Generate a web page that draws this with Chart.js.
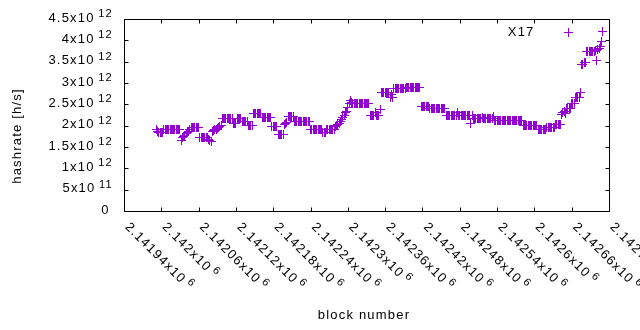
<!DOCTYPE html>
<html><head><meta charset="utf-8">
<script src="https://cdn.jsdelivr.net/npm/chart.js@4/dist/chart.umd.min.js"></script>
<style>html,body{margin:0;padding:0;background:#fff}</style>
</head><body>
<canvas id="c" width="640" height="330"></canvas>
<script>
// ---- data ----
const seriesLabel = "X17";
const FIRST_BLOCK = 2141992;   // block number of first sample
const BLOCK_STEP = 2;          // one sample every 2 blocks
// hashrate in units of 10^12 h/s
const hashrateT = [
  1.90, 1.86, 1.83, 1.83, 1.83, 1.85,
  1.90, 1.90, 1.90, 1.90, 1.90, 1.90, 1.90, 1.90, 1.90, 1.90, 1.90, 1.90, 1.90, 1.90,
  1.66,
  1.72, 1.75, 1.78, 1.81, 1.84, 1.87, 1.90,
  1.95, 1.95, 1.95, 1.95, 1.95, 1.95, 1.95,
  1.73, 1.73, 1.73, 1.73, 1.73, 1.73, 1.73,
  1.67, 1.66, 1.63, 1.86,
  1.88, 1.90, 1.92, 1.94, 1.96, 1.98, 2.00,
  2.16, 2.16, 2.16, 2.16, 2.16, 2.16, 2.16, 2.16, 2.16,
  2.06, 2.06, 2.06,
  2.16, 2.16, 2.16, 2.16,
  2.10, 2.10, 2.10, 2.10, 2.10,
  2.01, 2.01, 2.01, 2.01,
  2.28, 2.28, 2.28, 2.28, 2.28, 2.28, 2.28,
  2.18, 2.18, 2.18, 2.18, 2.18, 2.18, 2.18, 2.18,
  1.97, 1.97, 1.97, 1.97, 1.97,
  1.80, 1.80, 1.80, 1.80, 1.80,
  2.02, 2.05, 2.08,
  2.22, 2.22, 2.22, 2.22, 2.22,
  2.09, 2.09, 2.09, 2.09, 2.09, 2.09, 2.09, 2.09, 2.09, 2.09, 2.09, 2.09, 2.09,
  1.91, 1.91, 1.91, 1.91, 1.91, 1.91, 1.91, 1.91, 1.91, 1.91,
  1.84, 1.84, 1.84,
  1.92, 1.92, 1.92, 1.92, 1.92, 1.92, 1.92,
  1.98, 2.00, 2.03, 2.06, 2.10,
  2.14, 2.18, 2.24, 2.30, 2.34,
  2.42, 2.52, 2.59, 2.55,
  2.51, 2.51, 2.51, 2.51, 2.51, 2.51, 2.51, 2.51, 2.51, 2.51, 2.51, 2.51, 2.51, 2.51,
  2.24, 2.24, 2.24, 2.24, 2.30, 2.24, 2.24, 2.24,
  2.38,
  2.77, 2.77, 2.77, 2.77, 2.77, 2.77, 2.77,
  2.65, 2.72, 2.65,
  2.86, 2.86, 2.86, 2.86, 2.86, 2.86, 2.86, 2.86, 2.86, 2.86,
  2.89, 2.89, 2.89, 2.89, 2.89, 2.89, 2.89, 2.89, 2.89, 2.89, 2.89, 2.89,
  2.45, 2.45, 2.45, 2.45, 2.45, 2.45, 2.45,
  2.41, 2.41, 2.41, 2.41, 2.41, 2.41, 2.41, 2.41, 2.41, 2.41, 2.41, 2.41, 2.41,
  2.23, 2.23, 2.23, 2.23, 2.23, 2.23, 2.23, 2.23, 2.23, 2.31,
  2.23, 2.23, 2.23, 2.23, 2.23, 2.23, 2.23, 2.23, 2.23, 2.23, 2.05, 2.23,
  2.16, 2.16, 2.16, 2.16, 2.16, 2.16, 2.16, 2.20,
  2.16, 2.16, 2.16, 2.16, 2.16, 2.16, 2.16, 2.16, 2.22,
  2.11, 2.11, 2.11, 2.11, 2.11, 2.11, 2.11, 2.11, 2.11, 2.11, 2.11, 2.11,
  2.11, 2.11, 2.11, 2.11, 2.11, 2.11, 2.11, 2.11, 2.11, 2.11, 2.11,
  2.00, 2.00, 2.00, 2.00, 2.00, 2.00, 2.00, 2.00, 2.00, 2.00, 2.00, 2.00,
  1.92, 1.92, 1.92, 1.92, 1.92, 1.92, 1.92,
  1.95, 1.95, 1.95, 1.95, 1.95, 1.95, 1.95,
  2.02, 2.02, 2.02, 2.02, 2.02,
  2.27, 2.30, 2.33, 2.28,
  2.41, 2.41, 2.41, 2.41,
  2.52, 2.52, 2.52,
  2.65, 2.65, 2.65, 2.65,
  2.77,
  3.43, 3.43, 3.48, 3.48,
  3.73, 3.73, 3.73, 3.73, 3.73, 3.73, 3.73,
  3.76, 3.53, 3.78, 3.80, 3.85, 3.98, 4.21
];
const xTickValues = [2141940, 2142000, 2142060, 2142120, 2142180, 2142240, 2142300,
                     2142360, 2142420, 2142480, 2142540, 2142600, 2142660, 2142720];
const xTickMantissas = ["2.14194", "2.142", "2.14206", "2.14212", "2.14218", "2.14224", "2.1423",
                        "2.14236", "2.14242", "2.14248", "2.14254", "2.1426", "2.14266", "2.14272"];
const xTickExponent = "6";
const yTickValues = [0, 0.5e12, 1e12, 1.5e12, 2e12, 2.5e12, 3e12, 3.5e12, 4e12, 4.5e12];
const yTickMantissas = ["0", "5", "1", "1.5", "2", "2.5", "3", "3.5", "4", "4.5"];
const yTickExponents = ["", "11", "12", "12", "12", "12", "12", "12", "12", "12"];
const xTitle = "block number";
const yTitle = "hashrate [h/s]";

// ---- styling ----
const PURPLE = "#9400d3";
const FONT = "13px 'Liberation Sans', Arial, sans-serif";
const SUP_FONT = "11px 'Liberation Sans', Arial, sans-serif";
const SPACING = "1.2px";

function makeCross(size, color) {
  const c = document.createElement("canvas");
  c.width = size; c.height = size;
  const g = c.getContext("2d");
  g.fillStyle = color;
  const m = (size - 1) / 2;
  g.fillRect(0, m, size, 1);
  g.fillRect(m, 0, 1, size);
  return c;
}
const crossMark = makeCross(9, PURPLE);

const points = hashrateT.map((v, i) => ({ x: FIRST_BLOCK + i * BLOCK_STEP, y: v * 1e12 }));

const crispPoints = {
  id: "crispPoints",
  beforeDatasetsDraw(chart) { chart.ctx.save(); chart.ctx.imageSmoothingEnabled = false; },
  afterDatasetsDraw(chart) { chart.ctx.restore(); }
};

const gnuplotFrame = {
  id: "gnuplotFrame",
  afterDraw(chart) {
    const ctx = chart.ctx;
    const a = chart.chartArea;
    const xs = chart.scales.x, ys = chart.scales.y;
    const L = Math.round(a.left) + 0.5, R = Math.round(a.right) + 0.5;
    const T = Math.round(a.top) + 0.5, B = Math.round(a.bottom) + 0.5;
    ctx.save();
    ctx.strokeStyle = "#000";
    ctx.lineWidth = 1;
    ctx.beginPath();
    ctx.rect(L, T, R - L, B - T);
    xTickValues.forEach(v => {
      const px = Math.round(xs.getPixelForValue(v)) + 0.5;
      ctx.moveTo(px, B); ctx.lineTo(px, B - 4);
      ctx.moveTo(px, T); ctx.lineTo(px, T + 4);
    });
    yTickValues.forEach(v => {
      const py = Math.round(ys.getPixelForValue(v)) + 0.5;
      ctx.moveTo(L, py); ctx.lineTo(L + 4, py);
      ctx.moveTo(R, py); ctx.lineTo(R - 4, py);
    });
    ctx.stroke();

    ctx.fillStyle = "#000";
    ctx.letterSpacing = SPACING;
    // y tick labels
    yTickValues.forEach((v, i) => {
      const py = ys.getPixelForValue(v);
      const exp = yTickExponents[i];
      ctx.textBaseline = "middle";
      ctx.textAlign = "right";
      if (exp) {
        ctx.font = SUP_FONT;
        const supW = ctx.measureText(exp).width;
        ctx.fillText(exp, 112.8, py - 5);
        ctx.font = FONT;
        ctx.fillText(yTickMantissas[i] + "x10", 112.8 - supW - 3.5, py - 1);
      } else {
        ctx.font = FONT;
        ctx.fillText(yTickMantissas[i], 109.8, py - 0.5);
      }
    });
    // x tick labels, rotated
    xTickValues.forEach((v, i) => {
      const px = xs.getPixelForValue(v);
      ctx.save();
      ctx.translate(px + 3, 225);
      ctx.rotate(Math.PI / 4);
      ctx.textAlign = "left";
      ctx.textBaseline = "middle";
      ctx.font = FONT;
      const base = xTickMantissas[i] + "x10";
      ctx.fillText(base, 0, 0);
      const w = ctx.measureText(base).width;
      ctx.font = SUP_FONT;
      ctx.fillText(xTickExponent, w + 3, -4.5);
      ctx.restore();
    });
    // axis titles
    ctx.font = FONT;
    ctx.textAlign = "center";
    ctx.textBaseline = "middle";
    ctx.fillText(xTitle, 364, 315);
    ctx.save();
    ctx.translate(17, 136);
    ctx.rotate(-Math.PI / 2);
    ctx.fillText(yTitle, 0, 0);
    ctx.restore();
    // key
    ctx.textAlign = "right";
    ctx.fillText(seriesLabel, 534.5, 32);
    ctx.restore();
    ctx.save();
    ctx.imageSmoothingEnabled = false;
    ctx.drawImage(crossMark, 564, 28);
    ctx.restore();
  }
};

new Chart(document.getElementById("c"), {
  type: "scatter",
  data: {
    datasets: [{
      label: seriesLabel,
      data: points,
      pointStyle: crossMark,
      pointRadius: 4.5,
      pointHoverRadius: 4.5,
      borderColor: PURPLE,
      backgroundColor: PURPLE,
      showLine: false
    }]
  },
  options: {
    responsive: false,
    animation: false,
    devicePixelRatio: 1,
    events: [],
    layout: { padding: { left: 124, right: 31, top: 19, bottom: 119 } },
    plugins: { legend: { display: false }, tooltip: { enabled: false } },
    scales: {
      x: { type: "linear", display: false, min: 2141940, max: 2142720 },
      y: { type: "linear", display: false, min: 0, max: 4.5e12 }
    }
  },
  plugins: [crispPoints, gnuplotFrame]
});
</script>
</body></html>
